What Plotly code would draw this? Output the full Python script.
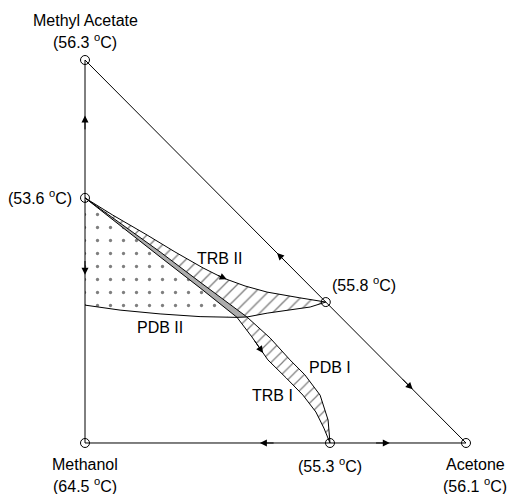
import numpy as np
import plotly.graph_objects as go

# ---- data (mole fractions: x = acetone, y = methyl acetate) ----
vertex_names = ["Methyl Acetate", "Methanol", "Acetone"]
vertex_temps = ["56.3", "64.5", "56.1"]
vertex_x = [0.0, 0.0, 1.0]
vertex_y = [1.0, 0.0, 0.0]

azeo_temps = ["53.6", "55.8", "55.3"]
azeo_x = [0.0, 0.632, 0.643]
azeo_y = [0.640, 0.368, 0.0]

trb2_x = [0.0, 0.073, 0.163, 0.236, 0.310, 0.362, 0.420, 0.478, 0.564, 0.632]
trb2_y = [0.640, 0.595, 0.543, 0.499, 0.457, 0.431, 0.410, 0.394, 0.379, 0.368]

pdb2_x = [0.0, 0.092, 0.197, 0.302, 0.399, 0.425, 0.478, 0.538, 0.591, 0.632]
pdb2_y = [0.360, 0.347, 0.337, 0.330, 0.328, 0.329, 0.339, 0.347, 0.355, 0.368]

trb1_x = [0.0, 0.092, 0.197, 0.302, 0.399, 0.438, 0.480, 0.528, 0.572, 0.606, 0.627, 0.643]
trb1_y = [0.640, 0.567, 0.486, 0.405, 0.328, 0.277, 0.217, 0.170, 0.125, 0.081, 0.039, 0.0]

pdb1_x = [0.0, 0.092, 0.197, 0.302, 0.425, 0.486, 0.538, 0.577, 0.617, 0.638, 0.643]
pdb1_y = [0.640, 0.574, 0.499, 0.420, 0.329, 0.274, 0.217, 0.178, 0.125, 0.060, 0.0]

curve_labels = ["TRB II", "PDB II", "PDB I", "TRB I"]
label_x = [0.352, 0.197, 0.643, 0.491]
label_y = [0.483, 0.301, 0.196, 0.125]

i_c = 4  # index of crossing with PDB II in trb1 / pdb2 (start)
i_d = 4  # index of crossing in pdb1
j_d = 5  # index in pdb2 of PDB I crossing

fig = go.Figure()

# dotted region
dot_x = [0.0] + trb1_x[:i_c + 1] + pdb2_x[:i_c][::-1] + [0.0]
dot_y = [0.640] + trb1_y[:i_c + 1] + pdb2_y[:i_c][::-1] + [0.640]
fig.add_trace(go.Scatter(x=dot_x, y=dot_y, mode="lines", fill="toself",
                         line=dict(width=0), fillcolor="rgba(0,0,0,0)",
                         fillpattern=dict(shape=".", fgcolor="black", bgcolor="white",
                                          size=13, solidity=0.05),
                         hoverinfo="skip", showlegend=False))

# grey wedge
g_x = trb1_x[:i_c + 1] + pdb2_x[i_c:j_d + 1] + pdb1_x[:i_d + 1][::-1]
g_y = trb1_y[:i_c + 1] + pdb2_y[i_c:j_d + 1] + pdb1_y[:i_d + 1][::-1]
fig.add_trace(go.Scatter(x=g_x, y=g_y, mode="lines", fill="toself",
                         line=dict(width=0), fillcolor="#acacac",
                         hoverinfo="skip", showlegend=False))

# upper hatched region (TRB II)
h2_x = trb2_x + pdb2_x[j_d:][::-1] + pdb1_x[:i_d + 1][::-1]
h2_y = trb2_y + pdb2_y[j_d:][::-1] + pdb1_y[:i_d + 1][::-1]
fig.add_trace(go.Scatter(x=h2_x, y=h2_y, mode="lines", fill="toself",
                         line=dict(width=0), fillcolor="rgba(0,0,0,0)",
                         fillpattern=dict(shape="/", fgcolor="black", bgcolor="white",
                                          size=9, solidity=0.15),
                         hoverinfo="skip", showlegend=False))

# lower hatched band (TRB I)
h1_x = trb1_x[i_c:] + pdb1_x[i_d:][::-1]
h1_y = trb1_y[i_c:] + pdb1_y[i_d:][::-1]
fig.add_trace(go.Scatter(x=h1_x, y=h1_y, mode="lines", fill="toself",
                         line=dict(width=0), fillcolor="rgba(0,0,0,0)",
                         fillpattern=dict(shape="/", fgcolor="black", bgcolor="white",
                                          size=8, solidity=0.15),
                         hoverinfo="skip", showlegend=False))

# boundary curves
for cx, cy in [(trb2_x, trb2_y), (pdb2_x, pdb2_y), (trb1_x, trb1_y), (pdb1_x, pdb1_y)]:
    fig.add_trace(go.Scatter(x=cx, y=cy, mode="lines", line=dict(color="black", width=1),
                             hoverinfo="skip", showlegend=False))

# triangle edges
tri_x = vertex_x + [vertex_x[0]]
tri_y = vertex_y + [vertex_y[0]]
fig.add_trace(go.Scatter(x=tri_x, y=tri_y, mode="lines", line=dict(color="black", width=1),
                         hoverinfo="skip", showlegend=False))

# open circles
fig.add_trace(go.Scatter(x=vertex_x + azeo_x, y=vertex_y + azeo_y, mode="markers",
                         marker=dict(symbol="circle-open", size=9, color="black", line=dict(width=1)),
                         hoverinfo="skip", showlegend=False))

# arrows (head at x,y; tail at ax,ay) along existing lines
trb2_ax = [0.345, 0.372]
trb2_ay = list(np.interp(trb2_ax, trb2_x, trb2_y))
trb1_ay = [0.270, 0.235]
trb1_ax = list(np.interp(trb1_ay, trb1_y[::-1], trb1_x[::-1]))
arrows = [
    (0.0, 0.855, 0.0, 0.815),      # up toward methyl acetate
    (0.0, 0.439, 0.0, 0.479),      # down toward methanol
    (0.459, 0.0, 0.499, 0.0),      # left toward methanol
    (0.80, 0.0, 0.76, 0.0),        # right toward acetone
    (0.504, 0.496, 0.534, 0.466),  # up-left toward methyl acetate
    (0.86, 0.14, 0.83, 0.17),      # down-right toward acetone
    (trb2_ax[1], trb2_ay[1], trb2_ax[0], trb2_ay[0]),  # along TRB II
    (trb1_ax[1], trb1_ay[1], trb1_ax[0], trb1_ay[0]),  # along TRB I
]
ann = []
for hx, hy, tx, ty in arrows:
    ann.append(dict(x=hx, y=hy, ax=tx, ay=ty, xref="x", yref="y", axref="x", ayref="y",
                    showarrow=True, arrowhead=2, arrowsize=1.4, arrowwidth=1,
                    arrowcolor="black", text=""))

font = dict(family="Liberation Sans, Arial, sans-serif", size=16, color="black")

def label(text, x, y, xs=0, ys=0, xanchor="center"):
    ann.append(dict(x=x, y=y, xref="x", yref="y", text=text, showarrow=False,
                    xshift=xs, yshift=ys, xanchor=xanchor, yanchor="middle", font=font))

deg = " <sup>o</sup>C)"
label(vertex_names[0], vertex_x[0], vertex_y[0], ys=40)
label("(" + vertex_temps[0] + deg, vertex_x[0], vertex_y[0], ys=19)
label(vertex_names[1], vertex_x[1], vertex_y[1], ys=-22)
label("(" + vertex_temps[1] + deg, vertex_x[1], vertex_y[1], ys=-42)
label(vertex_names[2], vertex_x[2], vertex_y[2], xs=9, ys=-22)
label("(" + vertex_temps[2] + deg, vertex_x[2], vertex_y[2], xs=9, ys=-42)
label("(" + azeo_temps[0] + deg, azeo_x[0], azeo_y[0], xs=-11, ys=1, xanchor="right")
label("(" + azeo_temps[1] + deg, azeo_x[1], azeo_y[1], xs=4, ys=18, xanchor="left")
label("(" + azeo_temps[2] + deg, azeo_x[2], azeo_y[2], ys=-22)
for t, lx, ly in zip(curve_labels, label_x, label_y):
    label(t, lx, ly)

fig.update_layout(
    width=511, height=494, margin=dict(l=0, r=0, t=0, b=0),
    plot_bgcolor="white", paper_bgcolor="white",
    xaxis=dict(range=[-0.2231, 1.1181], visible=False, fixedrange=True),
    yaxis=dict(range=[-0.1332, 1.1567], visible=False, fixedrange=True),
    annotations=ann, showlegend=False,
)

fig.write_html("out.html")
